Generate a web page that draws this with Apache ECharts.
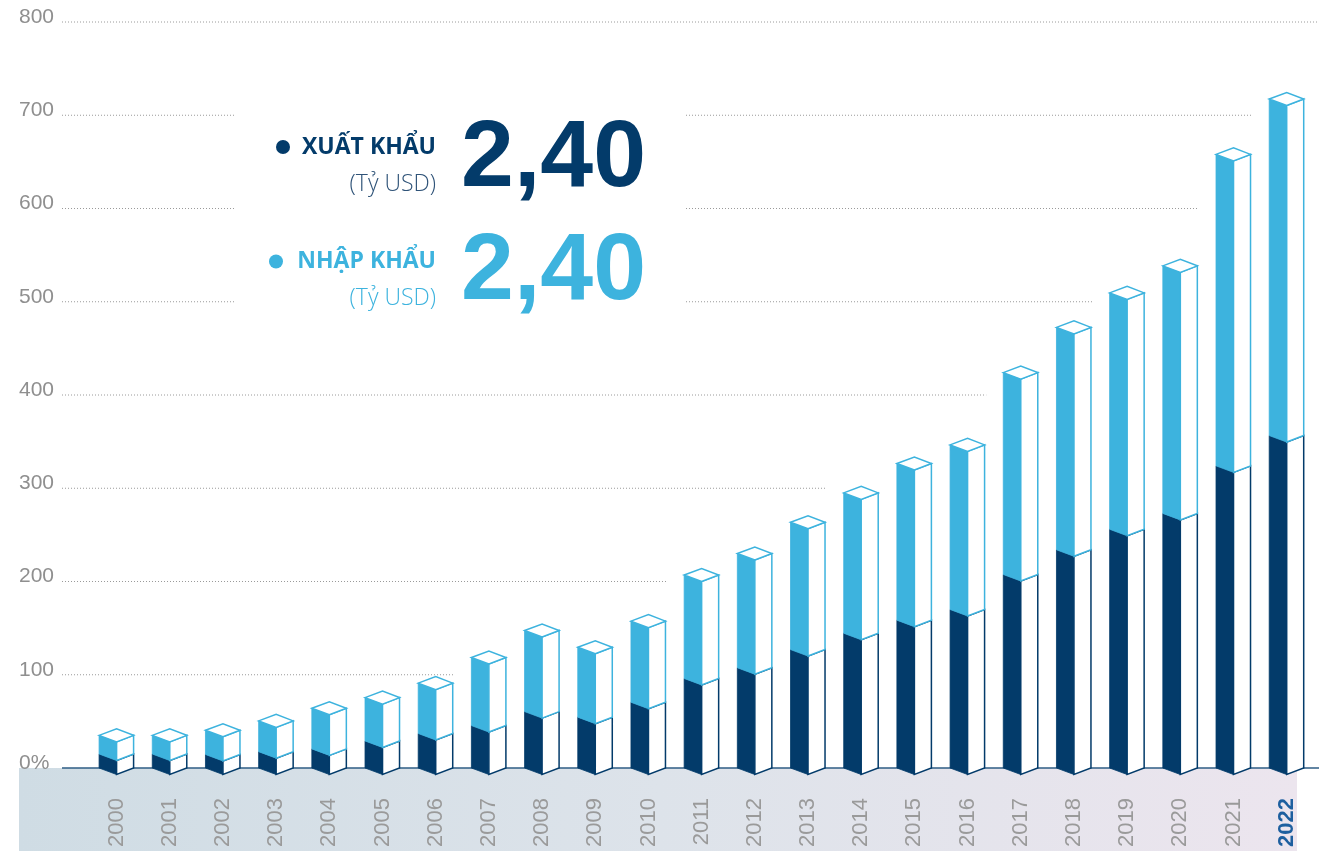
<!DOCTYPE html>
<html>
<head>
<meta charset="utf-8">
<script src="https://cdn.jsdelivr.net/npm/echarts@6/dist/echarts.min.js"></script>
<style>
html,body{margin:0;padding:0;background:#fff;}
#main{width:1319px;height:851px;}
</style>
</head>
<body>
<div id="main"></div>
<script>
// ---- data (billion USD) ----
const categories = ['2000','2001','2002','2003','2004','2005','2006','2007','2008','2009','2010','2011','2012','2013','2014','2015','2016','2017','2018','2019','2020','2021','2022'];
const exportValues = [15, 15, 14.5, 17.5, 20.5, 29, 37, 45.5, 60.5, 54.5, 70.5, 96, 107.5, 127, 144.5, 158.5, 170, 207.5, 234, 256, 273, 324, 356.5];
const importValues = [20, 20, 26, 33, 43.5, 46.5, 54, 73, 87, 75, 87, 111, 122.5, 136.5, 150.5, 168, 176.5, 216.5, 238.5, 253.5, 265.5, 334, 361];
const yTickValues = [0, 100, 200, 300, 400, 500, 600, 700, 800];
const yTickLabels = ['0%', '100', '200', '300', '400', '500', '600', '700', '800'];

// ---- styling ----
const DARK = '#033b6a';
const LIGHT = '#3db3de';
const L = 17.5, R = 17, D = 6.5;

const stackTotals = exportValues.map((v, i) => v + importValues[i]);
const barData = categories.map((c, i) => [i, exportValues[i], stackTotals[i]]);
const gridData = yTickValues.map(v => [0, v]);

function renderBar(params, api) {
  const i = api.value(0);
  const p0 = api.coord([i, 0]);
  const cx = p0[0], y0 = p0[1];
  const y1 = api.coord([i, api.value(1)])[1];
  const y2 = api.coord([i, api.value(2)])[1];
  const poly = (pts, style) => ({ type: 'polygon', shape: { points: pts }, style: style });
  return {
    type: 'group',
    children: [
      poly([[cx - L, y1], [cx, y1 + D], [cx, y0 + D], [cx - L, y0]], { fill: DARK, stroke: DARK, lineWidth: 0.8 }),
      poly([[cx - L, y2], [cx, y2 + D], [cx, y1 + D], [cx - L, y1]], { fill: LIGHT, stroke: LIGHT, lineWidth: 0.8 }),
      poly([[cx, y1 + D], [cx + R, y1], [cx + R, y0], [cx, y0 + D]], { fill: '#fff', stroke: DARK, lineWidth: 1.5 }),
      poly([[cx, y2 + D], [cx + R, y2], [cx + R, y1], [cx, y1 + D]], { fill: '#fff', stroke: LIGHT, lineWidth: 1.5 }),
      poly([[cx - L, y2], [cx, y2 - D], [cx + R, y2], [cx, y2 + D]], { fill: '#fff', stroke: LIGHT, lineWidth: 1.5 })
    ]
  };
}

function renderGridLine(params, api) {
  const v = api.value(1);
  const y = api.coord([0, v])[1];
  const x0 = 62;
  if (v === 0) {
    return { type: 'line', shape: { x1: x0, y1: y, x2: 1319, y2: y }, style: { stroke: '#2e5d84', lineWidth: 1.5 } };
  }
  let xEnd = 1319;
  for (let i = 0; i < stackTotals.length; i++) {
    const top = api.coord([i, stackTotals[i]]);
    if (top[1] - D <= y + 1) { xEnd = top[0] - L - 17; break; }
  }
  const style = { stroke: '#9a9a9a', lineWidth: 1, lineDash: [1, 2] };
  const segs = [];
  if (y > 100 && y < 320) {
    segs.push([x0, 236]);
    if (xEnd > 686) segs.push([686, xEnd]);
  } else {
    segs.push([x0, xEnd]);
  }
  return {
    type: 'group',
    children: segs.map(s => ({ type: 'line', shape: { x1: s[0], y1: y, x2: s[1], y2: y }, style: style }))
  };
}

const chart = echarts.init(document.getElementById('main'), null, { renderer: 'canvas' });

const option = {
  animation: false,
  grid: { left: 90, right: 5.7, top: 22, bottom: 83 },
  xAxis: {
    type: 'category',
    data: categories,
    axisLine: { show: false },
    axisTick: { show: false },
    axisLabel: {
      rotate: 90,
      margin: 30,
      interval: 0,
      color: '#9a9a9a',
      fontSize: 22,
      fontFamily: 'Liberation Sans, Arial, sans-serif',
      formatter: (v, idx) => idx === categories.length - 1 ? '{hl|' + v + '}' : v,
      rich: { hl: { color: '#1d5f9f', fontWeight: 'bold', fontSize: 22, fontFamily: 'Liberation Sans, Arial, sans-serif' } }
    }
  },
  yAxis: {
    type: 'value',
    min: 0,
    max: 800,
    interval: 100,
    splitLine: { show: false },
    axisLine: { show: false },
    axisTick: { show: false },
    axisLabel: {
      align: 'left',
      verticalAlign: 'bottom',
      margin: 71,
      lineHeight: 10,
      color: '#8f8f8f',
      fontSize: 21,
      fontFamily: 'Liberation Sans, Arial, sans-serif',
      formatter: v => yTickLabels[yTickValues.indexOf(v)]
    }
  },
  graphic: [
    {
      type: 'rect', z: -10, silent: true,
      shape: { x: 19, y: 768, width: 1278, height: 83 },
      style: {
        fill: new echarts.graphic.LinearGradient(0, 0, 1, 0, [
          { offset: 0, color: '#cfdce4' },
          { offset: 0.5, color: '#dde3ea' },
          { offset: 1, color: '#ece5ee' }
        ])
      }
    },
    { type: 'circle', z: 10, shape: { cx: 283, cy: 147, r: 7 }, style: { fill: DARK } },
    { type: 'text', z: 10, style: { text: 'XUẤT KHẨU', x: 436, y: 147, align: 'right', verticalAlign: 'middle', fill: DARK, font: 'bold 23px "Open Sans", "Liberation Sans", sans-serif' } },
    { type: 'text', z: 10, style: { text: '(Tỷ USD)', x: 436, y: 184, align: 'right', verticalAlign: 'middle', fill: '#2f5378', font: '300 23px "Open Sans", Lato, sans-serif' } },
    { type: 'text', z: 10, style: { text: '2,40', x: 646, y: 160, align: 'right', verticalAlign: 'middle', fill: DARK, font: 'bold 95px "Liberation Sans", Arial, sans-serif' } },
    { type: 'circle', z: 10, shape: { cx: 276, cy: 261.5, r: 7 }, style: { fill: LIGHT } },
    { type: 'text', z: 10, style: { text: 'NHẬP KHẨU', x: 436, y: 261, align: 'right', verticalAlign: 'middle', fill: LIGHT, font: 'bold 23px "Open Sans", "Liberation Sans", sans-serif' } },
    { type: 'text', z: 10, style: { text: '(Tỷ USD)', x: 436, y: 298, align: 'right', verticalAlign: 'middle', fill: LIGHT, font: '300 23px "Open Sans", Lato, sans-serif' } },
    { type: 'text', z: 10, style: { text: '2,40', x: 646, y: 273, align: 'right', verticalAlign: 'middle', fill: LIGHT, font: 'bold 95px "Liberation Sans", Arial, sans-serif' } }
  ],
  series: [
    {
      type: 'custom',
      name: 'grid',
      z: 1,
      silent: true,
      data: gridData,
      encode: { x: 0, y: 1 },
      renderItem: renderGridLine
    },
    {
      type: 'custom',
      name: 'trade',
      z: 3,
      data: barData,
      encode: { x: 0, y: [1, 2] },
      renderItem: renderBar
    }
  ]
};
chart.setOption(option);
</script>
</body>
</html>
